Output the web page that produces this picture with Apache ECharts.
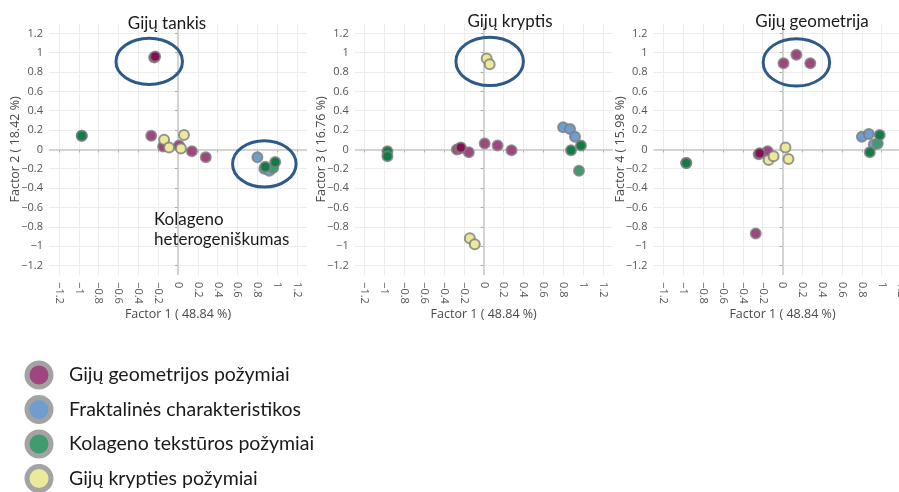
<!DOCTYPE html>
<html>
<head>
<meta charset="utf-8">
<script src="https://cdn.jsdelivr.net/npm/echarts@6/dist/echarts.min.js"></script>
<style>
  html, body { margin: 0; padding: 0; background: #fff; }
  #chart { width: 899px; height: 492px; }
</style>
</head>
<body>
<div id="chart"></div>
<script>
// Factor loadings of the image features (Factor 1 shared by all three panels)
const tickValues = [-1.2, -1, -0.8, -0.6, -0.4, -0.2, 0, 0.2, 0.4, 0.6, 0.8, 1, 1.2];
const factorTitles = ['Factor 1 ( 48.84 %)', 'Factor 2 ( 18.42 %)', 'Factor 3 ( 16.76 %)', 'Factor 4 ( 15.98 %)'];
const groupNames = ['Gijų geometrijos požymiai', 'Fraktalinės charakteristikos', 'Kolageno tekstūros požymiai', 'Gijų krypties požymiai'];
const panelTitles = ['Gijų tankis', 'Gijų kryptis', 'Gijų geometrija'];

// Gijų geometrijos požymiai
const geomF1 = [-0.27, -0.15, 0.01, 0.14, 0.28];
const geomF2 = [0.14, 0.03, 0.04, -0.02, -0.08];
const geomF3 = [0.00, -0.03, 0.06, 0.04, -0.01];
const geomF4 = [-0.87, -0.02, 0.89, 0.98, 0.89];
// gijų tankio požymiai (same group, nearly coincident pair)
const densF1 = [-0.24, -0.23];
const densF2 = [0.95, 0.96];
const densF3 = [0.01, 0.02];
const densF4 = [-0.05, -0.04];
// Fraktalinės charakteristikos
const fracF1 = [0.80, 0.87, 0.92];
const fracF2 = [-0.08, -0.20, -0.22];
const fracF3 = [0.23, 0.21, 0.13];
const fracF4 = [0.13, 0.16, 0.05];
// Kolageno tekstūros požymiai
const textF1 = [0.96];
const textF2 = [-0.19];
const textF3 = [-0.22];
const textF4 = [0.06];
const textDarkF1 = [-0.97, -0.97, 0.88, 0.98];
const textDarkF2 = [0.14, 0.14, -0.18, -0.13];
const textDarkF3 = [-0.02, -0.07, -0.01, 0.04];
const textDarkF4 = [-0.14, -0.14, -0.03, 0.15];
// Gijų krypties požymiai
const dirF1 = [-0.14, -0.09, 0.03, 0.06];
const dirF2 = [0.10, 0.02, 0.01, 0.15];
const dirF3 = [-0.92, -0.98, 0.94, 0.88];
const dirF4 = [-0.11, -0.07, 0.02, -0.10];

// highlighted regions, in loading units: [panel, cx, cy, rx, ry]
const regions = [
  [0, -0.29, 0.91, 0.335, 0.24],
  [0, 0.87, -0.15, 0.32, 0.24],
  [1, 0.06, 0.91, 0.34, 0.25],
  [2, 0.14, 0.90, 0.335, 0.245]
];

const zip = (xs, ys) => xs.map((x, i) => [x, ys[i]]);

const groups = [
  { name: groupNames[0], color: '#a0457f', x: geomF1, y: [geomF2, geomF3, geomF4] },
  { name: groupNames[0], color: '#850f55', x: densF1, y: [densF2, densF3, densF4] },
  { name: groupNames[1], color: '#6f9dcd', x: fracF1, y: [fracF2, fracF3, fracF4] },
  { name: groupNames[2], color: '#3f9c6c', x: textF1, y: [textF2, textF3, textF4] },
  { name: groupNames[2], color: '#127c47', x: textDarkF1, y: [textDarkF2, textDarkF3, textDarkF4] },
  { name: groupNames[3], color: '#ece99a', x: dirF1, y: [dirF2, dirF3, dirF4] }
];

const plotLefts = [49, 354.7, 653.5];
const plotTop = 23.7, plotW = 258, plotH = 251.4;

const fmt = v => (v === 0 ? '0' : String(v).replace('-', '\u2212'));
const tickFont = { fontFamily: 'Open Sans', fontSize: 11, color: '#555' };

const grids = [], xAxes = [], yAxes = [], series = [];
for (let p = 0; p < 3; p++) {
  grids.push({ left: plotLefts[p], top: plotTop, width: plotW, height: plotH,
    containLabel: false, outerBoundsMode: 'none' });
  const axisCommon = {
    type: 'value', min: -1.3, max: 1.3, gridIndex: p,
    nameLocation: 'middle', nameMoveOverlap: false,
    nameTextStyle: { fontFamily: 'Open Sans', fontSize: 12.5, color: '#4a4a4a' },
    axisLine: { show: false },
    axisTick: { show: true, length: 3, lineStyle: { color: '#aaa' }, customValues: tickValues },
    splitLine: { show: true, lineStyle: { color: '#ececec', width: 1 } }
  };
  xAxes.push(Object.assign({}, axisCommon, {
    name: factorTitles[0], nameGap: 33,
    axisLabel: Object.assign({ rotate: -90, margin: 7, formatter: fmt, customValues: tickValues }, tickFont)
  }));
  yAxes.push(Object.assign({}, axisCommon, {
    name: factorTitles[p + 1], nameGap: 27,
    axisLabel: Object.assign({ margin: 6, formatter: fmt, customValues: tickValues }, tickFont)
  }));
  // zero lines
  series.push({
    type: 'scatter', name: 'zero', xAxisIndex: p, yAxisIndex: p, data: [], silent: true,
    markLine: {
      z: 1, silent: true, symbol: 'none', animation: false, label: { show: false },
      lineStyle: { color: '#c9c9c9', width: 1.5, type: 'solid' },
      data: [{ xAxis: 0 }, { yAxis: 0 }]
    }
  });
  groups.forEach(g => {
    series.push({
      type: 'scatter', name: g.name, xAxisIndex: p, yAxisIndex: p, z: 3,
      symbol: 'circle', symbolSize: 10,
      itemStyle: { color: g.color, opacity: 1, borderColor: 'rgba(125,125,125,0.8)', borderWidth: 2 },
      data: zip(g.x, g.y[p])
    });
  });
}

const chart = echarts.init(document.getElementById('chart'), null, { renderer: 'canvas' });
chart.setOption({
  animation: false,
  backgroundColor: '#fff',
  grid: grids, xAxis: xAxes, yAxis: yAxes, series: series,
  legend: {
    data: groupNames, orient: 'vertical', left: 24.5, top: 360.5, height: 150, padding: 0,
    icon: 'circle', itemWidth: 24, itemHeight: 24, itemGap: 5.5,
    itemStyle: { borderColor: '#a3a3a3', borderWidth: 5 },
    textStyle: { fontFamily: 'Lato', fontSize: 19.5, color: '#1a1a1a', padding: [0, 0, 0, 13] },
    selectedMode: false
  }
});

// annotation ellipses and captions
const graphics = [];
regions.forEach(([p, cx, cy, rx, ry]) => {
  const c = chart.convertToPixel({ gridIndex: p }, [cx, cy]);
  const e = chart.convertToPixel({ gridIndex: p }, [cx + rx, cy + ry]);
  graphics.push({
    type: 'ellipse', z: 10,
    shape: { cx: c[0], cy: c[1], rx: Math.abs(e[0] - c[0]), ry: Math.abs(c[1] - e[1]) },
    style: { fill: 'none', stroke: '#2d5a88', lineWidth: 3 }
  });
});
const captionFont = { fontFamily: 'Lato', fontSize: 17, fill: '#1a1a1a' };
[[167, 24], [510, 22], [812, 22]].forEach(([x, y], i) => {
  graphics.push({ type: 'text', z: 10, x: x, y: y,
    style: Object.assign({ text: panelTitles[i], align: 'center', verticalAlign: 'middle' }, captionFont) });
});
graphics.push({ type: 'text', z: 10, x: 154, y: 220,
  style: Object.assign({ text: 'Kolageno', align: 'left', verticalAlign: 'middle' }, captionFont) });
graphics.push({ type: 'text', z: 10, x: 154, y: 240,
  style: Object.assign({ text: 'heterogeniškumas', align: 'left', verticalAlign: 'middle' }, captionFont) });
chart.setOption({ graphic: graphics });
</script>
</body>
</html>
